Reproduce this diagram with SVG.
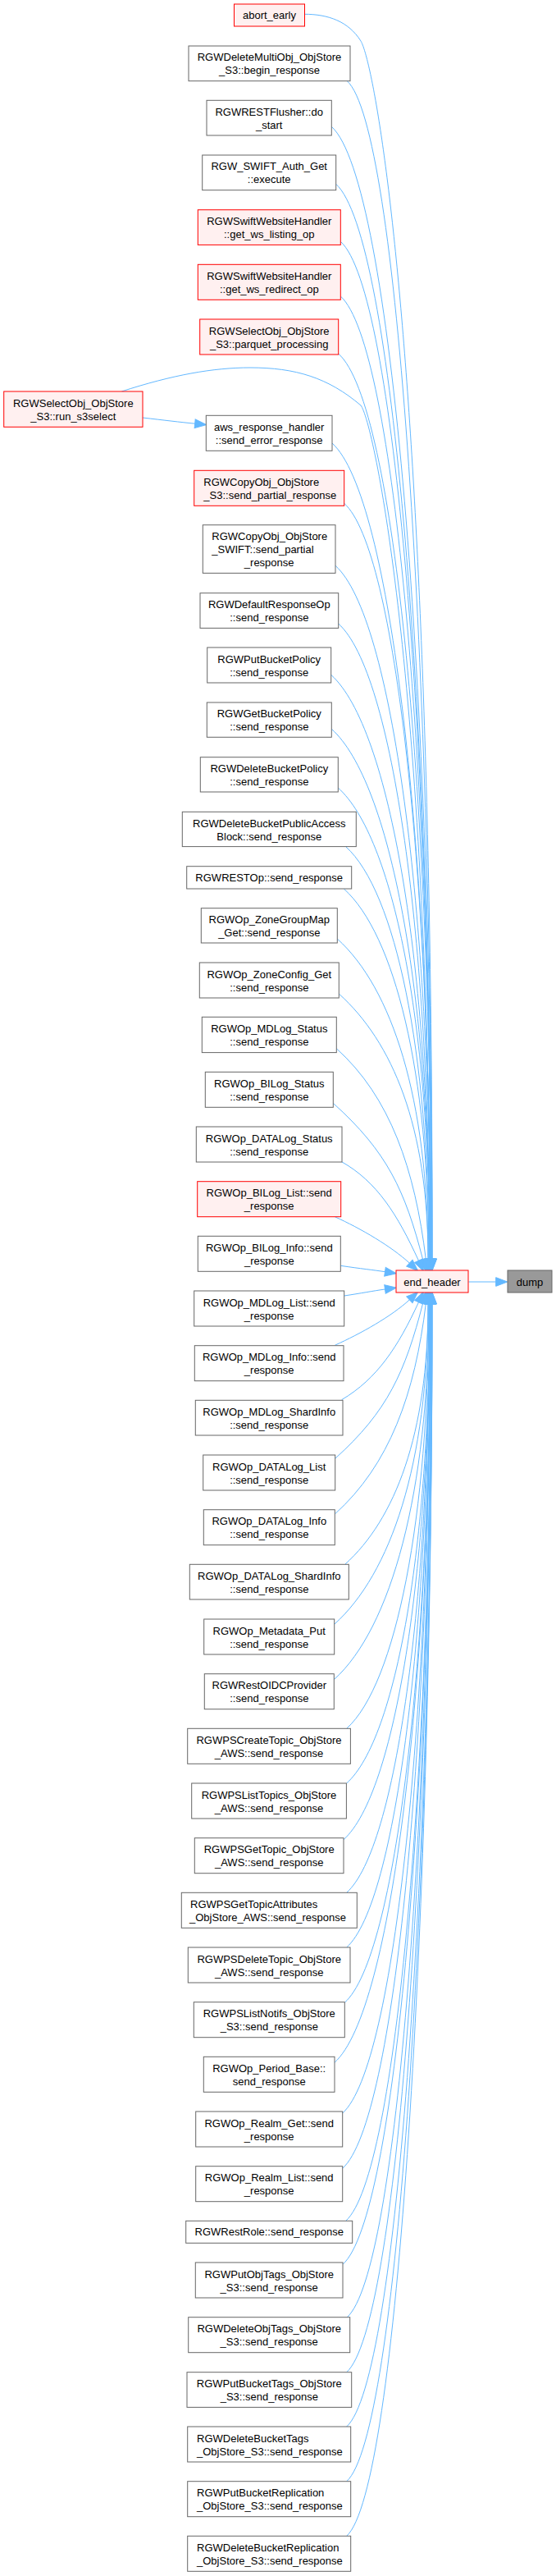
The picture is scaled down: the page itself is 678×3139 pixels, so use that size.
<svg xmlns="http://www.w3.org/2000/svg" width="678" height="3139" viewBox="0 0 678 3139">
<defs>
<marker id="ah" markerWidth="14" markerHeight="11" refX="0" refY="5.35" orient="auto" markerUnits="userSpaceOnUse" overflow="visible"><path d="M0,0 L14,5.35 L0,10.7 Z" fill="#63b8ff" stroke="#63b8ff" stroke-width="1"/></marker>
</defs>
<style>
.e{fill:none;stroke:#63b8ff;stroke-width:1;marker-end:url(#ah)}
.nd rect{fill:#ffffff;stroke:#666666;stroke-width:1}
.rd rect{fill:#fff0f0;stroke:#ff0000;stroke-width:1}
.gd rect{fill:#999999;stroke:#666666;stroke-width:1}
text{font-family:"Liberation Sans",Arial,Helvetica,sans-serif;font-size:13px;fill:#000000}
.c{text-anchor:middle}
</style>
<rect width="678" height="3139" fill="#ffffff"/>
<g id="connectors">
<path class="e" d="M371.3,17.3 C400,17.3 425,26 440,50 C458,80 528,450 527,1534"/>
<path class="e" d="M423.3,98.7 C485.5,154.7 527,816.4 527,1534"/>
<path class="e" d="M404.3,154.3 C477.9,220.6 527,844.2 527,1534"/>
<path class="e" d="M409.7,224.3 C479.5,287.1 526,879.2 526,1534"/>
<path class="e" d="M415.3,294.3 C481.7,354.1 526,914.2 526,1534"/>
<path class="e" d="M415.3,361 C481.7,420.8 526,947.5 526,1534"/>
<path class="e" d="M412.7,431 C482,492.2 526,982.5 526,1534"/>
<path class="e" d="M148.3,477 C210,457 260,448 305,448 C360,448 400,460 440,494 C455,512 522,820 525,1534"/>
<path class="e" d="M174,509 C200,512 220,514.5 237.7,516.2"/>
<path class="e" d="M405,540 C477,604.8 525,1037 525,1534"/>
<path class="e" d="M419.7,613.3 C482.9,670.2 525,1073.7 525,1534"/>
<path class="e" d="M409,689.3 C478.6,751.9 525,1111.7 525,1534"/>
<path class="e" d="M412.7,760 C479.5,820.1 524,1147 524,1534"/>
<path class="e" d="M403.7,822.3 C475.9,887.3 524,1178.2 524,1534"/>
<path class="e" d="M404.3,888.3 C476.1,952.9 524,1211.2 524,1534"/>
<path class="e" d="M412.3,960 C479.3,1020.3 524,1247 524,1534"/>
<path class="e" d="M421.7,1031.7 C482.5,1086.4 523,1282.9 523,1534"/>
<path class="e" d="M419.3,1083 C481.5,1139 523,1308.5 523,1534"/>
<path class="e" d="M411.3,1144 C477.7,1203.8 522,1339 522,1534"/>
<path class="e" d="M413.3,1211 C478.5,1269.7 522,1372.5 522,1534"/>
<path class="e" d="M410.3,1277.7 C475.7,1336.6 506,1424.6 519.4,1535.1"/>
<path class="e" d="M406.3,1344.3 C472,1403.4 493.8,1450 515.8,1535.4"/>
<path class="e" d="M416,1415.3 C460,1440 484.7,1480.3 510.5,1536.2"/>
<path class="e" d="M408.3,1482.7 C440,1497 477.2,1518.8 499.4,1539.2"/>
<path class="e" d="M415.3,1542.3 C440,1546 455,1547.5 469.5,1549.7"/>
<path class="e" d="M419.7,1579 C440,1576 455,1573 469.5,1571"/>
<path class="e" d="M408.3,1639.3 C440,1625 477.2,1604.2 499.4,1583.8"/>
<path class="e" d="M416.7,1705.7 C460,1680 485.3,1641.4 510.5,1586.8"/>
<path class="e" d="M408.7,1777.3 C472.9,1719.5 494,1672 515.8,1587.6"/>
<path class="e" d="M408.3,1845 C475,1785 506,1698.8 519.4,1587.9"/>
<path class="e" d="M420.7,1906.3 C481.5,1851.6 522,1747.7 522,1589"/>
<path class="e" d="M407.7,1979.3 C476.3,1917.6 522,1784.2 522,1589"/>
<path class="e" d="M407.3,2046.7 C476.7,1984.2 523,1817.9 523,1589"/>
<path class="e" d="M422.7,2106.3 C482.9,2052.1 523,1847.7 523,1589"/>
<path class="e" d="M422.7,2173 C483.5,2118.3 524,1881 524,1589"/>
<path class="e" d="M419,2241.7 C482,2185 524,1915.4 524,1589"/>
<path class="e" d="M422.7,2306.3 C483.5,2251.6 524,1947.7 524,1589"/>
<path class="e" d="M422.7,2373 C483.5,2318.3 524,1981 524,1589"/>
<path class="e" d="M420.3,2440.3 C483.1,2383.8 525,2014.7 525,1589"/>
<path class="e" d="M408,2513.3 C478.2,2450.1 525,2051.2 525,1589"/>
<path class="e" d="M417.7,2575 C482.1,2517.1 525,2082 525,1589"/>
<path class="e" d="M417.7,2642.3 C482.1,2584.4 525,2115.7 525,1589"/>
<path class="e" d="M421.7,2706.3 C484.3,2650 526,2147.7 526,1589"/>
<path class="e" d="M418,2759.3 C482.8,2701 526,2174.2 526,1589"/>
<path class="e" d="M423.3,2823.7 C484.9,2768.2 526,2206.4 526,1589"/>
<path class="e" d="M422.7,2890.7 C484.7,2834.9 526,2239.9 526,1589"/>
<path class="e" d="M422.7,2957 C485.3,2900.7 527,2273 527,1589"/>
<path class="e" d="M422.7,3023.7 C485.3,2967.4 527,2306.4 527,1589"/>
<path class="e" d="M422.7,3090.3 C485.3,3034 527,2339.7 527,1589"/>
<path class="e" d="M571.3,1562 L604.7,1562"/>
</g>
<g id="abort_early" class="rd"><rect x="285.5" y="5" width="86" height="27"/><text class="c" x="328.5" y="23">abort_early</text></g>
<g id="n_deletemultiobj" class="nd"><rect x="230" y="56" width="197" height="42.7"/><text class="c" x="328.5" y="74.3">RGWDeleteMultiObj_ObjStore</text><text class="c" x="328.5" y="90.3">_S3::begin_response</text></g>
<g id="n_restflusher" class="nd"><rect x="252" y="122.3" width="152.3" height="42.7"/><text class="c" x="328.2" y="140.7">RGWRESTFlusher::do</text><text class="c" x="328.2" y="156.7">_start</text></g>
<g id="n_swift_auth" class="nd"><rect x="246.7" y="189" width="163" height="42.7"/><text class="c" x="328.2" y="207.3">RGW_SWIFT_Auth_Get</text><text class="c" x="328.2" y="223.3">::execute</text></g>
<g id="n_ws_listing" class="rd"><rect x="241.3" y="255.7" width="174" height="42.7"/><text class="c" x="328.3" y="274">RGWSwiftWebsiteHandler</text><text class="c" x="328.3" y="290">::get_ws_listing_op</text></g>
<g id="n_ws_redirect" class="rd"><rect x="241.3" y="322.3" width="174" height="43"/><text class="c" x="328.3" y="340.8">RGWSwiftWebsiteHandler</text><text class="c" x="328.3" y="356.8">::get_ws_redirect_op</text></g>
<g id="n_parquet" class="rd"><rect x="243.7" y="389" width="169" height="43"/><text class="c" x="328.2" y="407.5">RGWSelectObj_ObjStore</text><text class="c" x="328.2" y="423.5">_S3::parquet_processing</text></g>
<g id="n_run_s3select" class="rd"><rect x="4.7" y="477" width="169.3" height="43.3"/><text class="c" x="89.3" y="495.7">RGWSelectObj_ObjStore</text><text class="c" x="89.3" y="511.7">_S3::run_s3select</text></g>
<g id="n_aws" class="nd"><rect x="251.3" y="506.3" width="153.7" height="43"/><text class="c" x="328.2" y="524.8">aws_response_handler</text><text class="c" x="328.2" y="540.8">::send_error_response</text></g>
<g id="n_copyobj_s3" class="rd"><rect x="236.7" y="573.3" width="183" height="43"/><text x="248.3" y="591.8">RGWCopyObj_ObjStore</text><text x="248.3" y="607.8">_S3::send_partial_response</text></g>
<g id="n_copyobj_swift" class="nd"><rect x="247.3" y="639.7" width="161.7" height="58.7"/><text x="258.3" y="657.6">RGWCopyObj_ObjStore</text><text x="258.3" y="673.6">_SWIFT::send_partial</text><text class="c" x="328.2" y="689.6">_response</text></g>
<g id="n_defaultresponse" class="nd"><rect x="244" y="722.7" width="168.7" height="42.7"/><text class="c" x="328.3" y="741">RGWDefaultResponseOp</text><text class="c" x="328.3" y="757">::send_response</text></g>
<g id="n_putbucketpolicy" class="nd"><rect x="252.7" y="789" width="151" height="43"/><text class="c" x="328.2" y="807.5">RGWPutBucketPolicy</text><text class="c" x="328.2" y="823.5">::send_response</text></g>
<g id="n_getbucketpolicy" class="nd"><rect x="252.3" y="856" width="152" height="42.3"/><text class="c" x="328.3" y="874.2">RGWGetBucketPolicy</text><text class="c" x="328.3" y="890.2">::send_response</text></g>
<g id="n_deletebucketpolicy" class="nd"><rect x="244.3" y="922.7" width="168" height="42.3"/><text class="c" x="328.3" y="940.8">RGWDeleteBucketPolicy</text><text class="c" x="328.3" y="956.8">::send_response</text></g>
<g id="n_publicaccessblock" class="nd"><rect x="222.3" y="989.3" width="212" height="42.3"/><text class="c" x="328.3" y="1007.5">RGWDeleteBucketPublicAccess</text><text class="c" x="328.3" y="1023.5">Block::send_response</text></g>
<g id="n_restop" class="nd"><rect x="227.7" y="1055.7" width="201" height="27.3"/><text class="c" x="328.2" y="1073.8">RGWRESTOp::send_response</text></g>
<g id="n_zonegroupmap" class="nd"><rect x="245.3" y="1106.7" width="166" height="42.3"/><text class="c" x="328.3" y="1124.8">RGWOp_ZoneGroupMap</text><text class="c" x="328.3" y="1140.8">_Get::send_response</text></g>
<g id="n_zoneconfig" class="nd"><rect x="243.3" y="1173" width="170" height="43"/><text class="c" x="328.3" y="1191.5">RGWOp_ZoneConfig_Get</text><text class="c" x="328.3" y="1207.5">::send_response</text></g>
<g id="n_mdlog_status" class="nd"><rect x="246.3" y="1239.3" width="164" height="43.3"/><text class="c" x="328.3" y="1258">RGWOp_MDLog_Status</text><text class="c" x="328.3" y="1274">::send_response</text></g>
<g id="n_bilog_status" class="nd"><rect x="250.3" y="1306.3" width="156" height="43"/><text class="c" x="328.3" y="1324.8">RGWOp_BILog_Status</text><text class="c" x="328.3" y="1340.8">::send_response</text></g>
<g id="n_datalog_status" class="nd"><rect x="239.3" y="1373" width="177.7" height="43"/><text class="c" x="328.2" y="1391.5">RGWOp_DATALog_Status</text><text class="c" x="328.2" y="1407.5">::send_response</text></g>
<g id="n_bilog_list" class="rd"><rect x="240.7" y="1439.7" width="175" height="43"/><text class="c" x="328.2" y="1458.2">RGWOp_BILog_List::send</text><text class="c" x="328.2" y="1474.2">_response</text></g>
<g id="n_bilog_info" class="nd"><rect x="241.3" y="1506.3" width="174" height="43"/><text class="c" x="328.3" y="1524.8">RGWOp_BILog_Info::send</text><text class="c" x="328.3" y="1540.8">_response</text></g>
<g id="n_mdlog_list" class="nd"><rect x="236.7" y="1573" width="183" height="43"/><text class="c" x="328.2" y="1591.5">RGWOp_MDLog_List::send</text><text class="c" x="328.2" y="1607.5">_response</text></g>
<g id="n_mdlog_info" class="nd"><rect x="237.3" y="1639.7" width="181.7" height="43"/><text class="c" x="328.2" y="1658.2">RGWOp_MDLog_Info::send</text><text class="c" x="328.2" y="1674.2">_response</text></g>
<g id="n_mdlog_shardinfo" class="nd"><rect x="238.3" y="1706.3" width="179.7" height="42.7"/><text class="c" x="328.2" y="1724.7">RGWOp_MDLog_ShardInfo</text><text class="c" x="328.2" y="1740.7">::send_response</text></g>
<g id="n_datalog_list" class="nd"><rect x="247.7" y="1773" width="161" height="43"/><text class="c" x="328.2" y="1791.5">RGWOp_DATALog_List</text><text class="c" x="328.2" y="1807.5">::send_response</text></g>
<g id="n_datalog_info" class="nd"><rect x="248.3" y="1839.7" width="160" height="43"/><text class="c" x="328.3" y="1858.2">RGWOp_DATALog_Info</text><text class="c" x="328.3" y="1874.2">::send_response</text></g>
<g id="n_datalog_shardinfo" class="nd"><rect x="231.3" y="1906.3" width="194" height="42.7"/><text class="c" x="328.3" y="1924.7">RGWOp_DATALog_ShardInfo</text><text class="c" x="328.3" y="1940.7">::send_response</text></g>
<g id="n_metadata_put" class="nd"><rect x="248.7" y="1973" width="159" height="43"/><text class="c" x="328.2" y="1991.5">RGWOp_Metadata_Put</text><text class="c" x="328.2" y="2007.5">::send_response</text></g>
<g id="n_oidc" class="nd"><rect x="249.3" y="2039.7" width="158" height="43"/><text class="c" x="328.3" y="2058.2">RGWRestOIDCProvider</text><text class="c" x="328.3" y="2074.2">::send_response</text></g>
<g id="n_pscreatetopic" class="nd"><rect x="228.7" y="2106.3" width="198.7" height="43"/><text class="c" x="328" y="2124.8">RGWPSCreateTopic_ObjStore</text><text class="c" x="328" y="2140.8">_AWS::send_response</text></g>
<g id="n_pslisttopics" class="nd"><rect x="233.7" y="2173" width="188.7" height="43"/><text class="c" x="328" y="2191.5">RGWPSListTopics_ObjStore</text><text class="c" x="328" y="2207.5">_AWS::send_response</text></g>
<g id="n_psgettopic" class="nd"><rect x="237.3" y="2239.7" width="181.7" height="43"/><text class="c" x="328.2" y="2258.2">RGWPSGetTopic_ObjStore</text><text class="c" x="328.2" y="2274.2">_AWS::send_response</text></g>
<g id="n_psgettopicattributes" class="nd"><rect x="221.3" y="2306.3" width="214" height="43"/><text x="232" y="2324.8">RGWPSGetTopicAttributes</text><text x="231" y="2340.8">_ObjStore_AWS::send_response</text></g>
<g id="n_psdeletetopic" class="nd"><rect x="229.3" y="2373" width="197.7" height="43"/><text class="c" x="328.2" y="2391.5">RGWPSDeleteTopic_ObjStore</text><text class="c" x="328.2" y="2407.5">_AWS::send_response</text></g>
<g id="n_pslistnotifs" class="nd"><rect x="236.3" y="2439.7" width="184" height="43"/><text class="c" x="328.3" y="2458.2">RGWPSListNotifs_ObjStore</text><text class="c" x="328.3" y="2474.2">_S3::send_response</text></g>
<g id="n_period_base" class="nd"><rect x="248.3" y="2506.3" width="159.7" height="43"/><text class="c" x="328.2" y="2524.8">RGWOp_Period_Base::</text><text class="c" x="328.2" y="2540.8">send_response</text></g>
<g id="n_realm_get" class="nd"><rect x="238.7" y="2573" width="179" height="43"/><text class="c" x="328.2" y="2591.5">RGWOp_Realm_Get::send</text><text class="c" x="328.2" y="2607.5">_response</text></g>
<g id="n_realm_list" class="nd"><rect x="238.7" y="2639.7" width="179" height="43"/><text class="c" x="328.2" y="2658.2">RGWOp_Realm_List::send</text><text class="c" x="328.2" y="2674.2">_response</text></g>
<g id="n_restrole" class="nd"><rect x="226.7" y="2706.3" width="203" height="27"/><text class="c" x="328.2" y="2724.3">RGWRestRole::send_response</text></g>
<g id="n_putobjtags" class="nd"><rect x="238.3" y="2757" width="179.7" height="43"/><text class="c" x="328.2" y="2775.5">RGWPutObjTags_ObjStore</text><text class="c" x="328.2" y="2791.5">_S3::send_response</text></g>
<g id="n_deleteobjtags" class="nd"><rect x="229.7" y="2823.7" width="197" height="43"/><text class="c" x="328.2" y="2842.2">RGWDeleteObjTags_ObjStore</text><text class="c" x="328.2" y="2858.2">_S3::send_response</text></g>
<g id="n_putbuckettags" class="nd"><rect x="228" y="2890.7" width="200.7" height="42.7"/><text class="c" x="328.3" y="2909">RGWPutBucketTags_ObjStore</text><text class="c" x="328.3" y="2925">_S3::send_response</text></g>
<g id="n_deletebuckettags" class="nd"><rect x="228.7" y="2957" width="199" height="43"/><text x="240" y="2975.5">RGWDeleteBucketTags</text><text x="240" y="2991.5">_ObjStore_S3::send_response</text></g>
<g id="n_putbucketreplication" class="nd"><rect x="228.7" y="3023.7" width="199" height="43"/><text x="240" y="3042.2">RGWPutBucketReplication</text><text x="240" y="3058.2">_ObjStore_S3::send_response</text></g>
<g id="n_deletebucketreplication" class="nd"><rect x="228.7" y="3090.3" width="199" height="43"/><text x="240" y="3108.8">RGWDeleteBucketReplication</text><text x="240" y="3124.8">_ObjStore_S3::send_response</text></g>
<g id="end_header" class="rd"><rect x="483" y="1548" width="88" height="27"/><text class="c" x="527" y="1566.5">end_header</text></g>
<g id="dump" class="gd"><rect x="619" y="1548" width="54" height="27"/><text class="c" x="646" y="1566.5">dump</text></g>
</svg>
